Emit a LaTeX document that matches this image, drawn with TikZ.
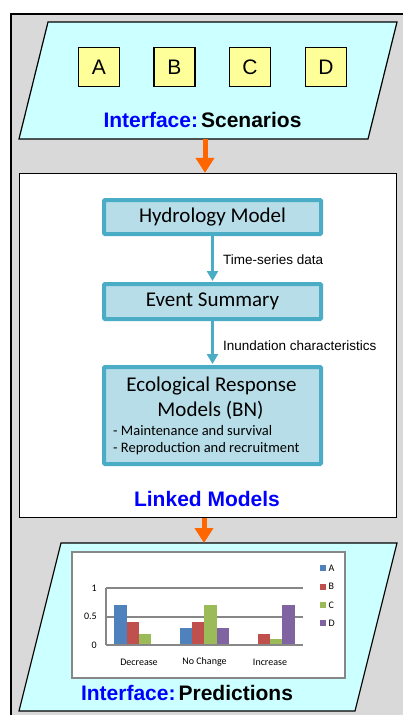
\documentclass[tikz,border=0pt]{standalone}
\usepackage{fontspec}
\setmainfont{Liberation Sans}
\newfontfamily\calibri{Carlito}
\usetikzlibrary{arrows.meta}

\definecolor{frameblue}{HTML}{4BACC6}
\definecolor{boxblue}{HTML}{B7DEE8}
\definecolor{panelcyan}{HTML}{CCFFFF}
\definecolor{keyyellow}{HTML}{FFFF99}
\definecolor{linkorange}{HTML}{FF6600}
\definecolor{backgray}{HTML}{D9D9D9}
\definecolor{gridgray}{HTML}{878787}
\definecolor{serA}{HTML}{4F81BD}
\definecolor{serB}{HTML}{C0504D}
\definecolor{serC}{HTML}{9BBB59}
\definecolor{serD}{HTML}{8064A2}

\begin{document}
\begin{tikzpicture}[x=1pt, y=-1pt,
	scenbox/.style={draw, line width=1.2pt, fill=keyyellow, minimum width=41pt, minimum height=39pt, font=\fontsize{21}{21}\selectfont},
	modelbox/.style={draw=frameblue, line width=4pt, fill=boxblue, rounded corners=1pt, minimum width=217pt, font=\calibri\fontsize{21}{24}\selectfont},
	flowarrow/.style={draw=frameblue, line width=3.5pt, shorten >=1pt, -{Triangle[width=11pt,length=10pt]}},
	linkarrow/.style={draw=linkorange, line width=5pt, -{Triangle[width=18pt,length=15pt]}},
	edgelabel/.style={anchor=west, inner sep=0pt, font=\fontsize{13.5}{14}\selectfont},
	title/.style={font=\bfseries\fontsize{21}{21}\selectfont},
	chartlabel/.style={inner sep=0pt, font=\calibri\fontsize{10}{10}\selectfont}]
	\useasboundingbox (0,0) rectangle (402,715);
	\draw[fill=backgray, line width=1.2pt] (11,14) rectangle (430,740);

	% Interface: scenarios
	\draw[fill=panelcyan, line width=1.2pt] (48,22) -- (397,22) -- (368,139) -- (19,139) -- cycle;
	\coordinate (scenout) at (205,139);
	\foreach \k/\x in {A/99,B/174.5,C/250,D/326}
		\node[scenbox] (scen\k) at (\x,67) {\k};
	\node[title] (scentitle) at (202.5,120) {\textcolor{blue}{Interface:}\hspace{3pt}Scenarios};

	% Linked models
	\node[draw, line width=1.2pt, fill=white, minimum width=377pt, minimum height=344pt] (linked) at (208,345.5) {};
	\draw[linkarrow] (scenout) -- (scenout |- linked.north);
	\node[modelbox, minimum height=34pt] (hydro) at (212.5,217) {Hydrology Model};
	\node[modelbox, minimum height=35pt] (event) at (212.5,301.5) {Event Summary};
	\node[modelbox, minimum height=97pt] (erm) at (212.5,415.5) {};
	\node[font=\calibri\fontsize{21}{21}\selectfont] (ermtitle) at (211.5,386) {Ecological Response};
	\node[font=\calibri\fontsize{21}{21}\selectfont] (ermsub) at (210.5,410) {Models (BN)};
	\node[anchor=west, inner sep=0pt, font=\calibri\fontsize{14.5}{15}\selectfont] (ermsurv) at (113,431) {- Maintenance and survival};
	\node[anchor=west, inner sep=0pt, font=\calibri\fontsize{14.5}{15}\selectfont] (ermrecr) at (113,449) {- Reproduction and recruitment};
	\draw[flowarrow] (hydro) -- (event);
	\draw[flowarrow] (event) -- (erm);
	\node[edgelabel] (tslabel) at (223,260) {Time-series data};
	\node[edgelabel] (inlabel) at (223,346) {Inundation characteristics};
	\node[title, text=blue] (linkedtitle) at (207,499) {Linked Models};

	% Interface: predictions
	\draw[fill=panelcyan, line width=1.2pt] (61,543) -- (397,543) -- (355,711) -- (19,711) -- cycle;
	\coordinate (predin) at (204,543);
	\draw[linkarrow] (linked.south -| predin) -- (predin);
	\draw[gridgray, line width=2pt, fill=white] (72,552) rectangle (345,678);
	\foreach \v in {0.5,1}
		\draw[gridgray, line width=2pt] (106,{645-57*\v}) -- (303,{645-57*\v});
	\draw[gridgray, line width=2pt] (106,588) -- (106,645);
	\foreach \g/\va/\vb/\vc/\vd in {0/0.7/0.4/0.2/0, 1/0.3/0.4/0.7/0.3, 2/0/0.2/0.1/0.7}
		\foreach \s/\v [count=\i from 0] in {serA/\va,serB/\vb,serC/\vc,serD/\vd}
			\fill[\s] ({114.2+65.67*\g+12.3*\i},645) rectangle ++(12.3,{-57*\v});
	\draw[gridgray, line width=1.5pt] (106,645) -- (303,645);
	\foreach \v/\t in {1/1,0.5/0.5,0/0}
		\node[chartlabel, anchor=east] (tick\v) at (97,{645-57*\v}) {\t};
	\foreach \n/\x/\t in {dec/139/Decrease,noc/204.5/No Change,inc/270/Increase}
		\node[chartlabel] (cat\n) at (\x,662) {\t};
	\foreach \n [count=\i from 0] in {A,B,C,D} {
		\fill[ser\n] (320,{565.3+18.3*\i}) rectangle ++(5.5,6);
		\node[chartlabel, anchor=west] (key\n) at (328.5,{568.3+18.3*\i}) {\n};
	}
	\node[title] (predtitle) at (187,693) {\textcolor{blue}{Interface:}\hspace{3pt}Predictions};
\end{tikzpicture}
\end{document}
